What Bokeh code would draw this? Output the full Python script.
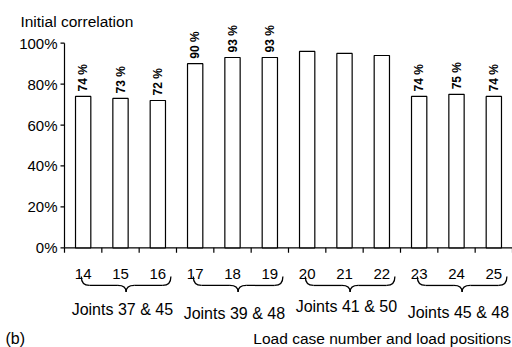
import math
from bokeh.plotting import figure
from bokeh.models import Range1d, ColumnDataSource
from bokeh.core.properties import value
from bokeh.embed import file_html
from bokeh.resources import INLINE

# ---------------- data ----------------
load_cases = ["14", "15", "16", "17", "18", "19", "20", "21", "22", "23", "24", "25"]
correlation = [74, 73, 72, 90, 93, 93, 96, 95, 94, 74, 75, 74]
labeled = [True, True, True, True, True, True, False, False, False, True, True, True]
groups = ["Joints 37 & 45", "Joints 39 & 48", "Joints 41 & 50", "Joints 45 & 48"]
group_size = 3
y_ticks = [0, 20, 40, 60, 80, 100]
y_tick_labels = ["0%", "20%", "40%", "60%", "80%", "100%"]
y_title = "Initial correlation"
x_title = "Load case number and load positions"
panel_tag = "(b)"

# ---------------- layout / style ----------------
FONT = "Liberation Sans"
W, H = 512, 347
n = len(load_cases)
CW = 448 / n                      # pixels per category
X_MIN, X_MAX = -64 / CW, n
PX = 2.046                        # pixels per percent
ZERO = 247.3                      # canvas y of the 0 % line
Y_MAX, Y_MIN = ZERO / PX, -(H - ZERO) / PX
XT = 4 / CW                       # y tick length (x units)
YT = 5 / PX                       # x tick length (y units)
NUM_Y = -12.6
BRACE_TOP, BRACE_MID, BRACE_TIP = -14.0, -18.4, -21.6
GROUP_LABEL_Y = [-30.4, -32.1, -28.7, -31.6]
LABEL_GAP = 5 / PX
BOTTOM_Y = -44.1
TITLE_X, TITLE_Y = -1.18, 110.6

centers = [i + 0.5 for i in range(n)]
boundaries = list(range(n + 1))

p = figure(width=W, height=H, output_backend="svg", toolbar_location=None,
           x_range=Range1d(X_MIN, X_MAX), y_range=Range1d(Y_MIN, Y_MAX),
           x_axis_type=None, y_axis_type=None,
           min_border_left=0, min_border_right=0, min_border_top=0, min_border_bottom=0)
p.outline_line_color = None
p.background_fill_color = "white"
p.border_fill_color = "white"

LW = 1.2
# ---- y axis (value axis, 0..100 %) ----
p.segment(x0=[0], y0=[y_ticks[0]], x1=[0], y1=[y_ticks[-1]], line_color="black", line_width=LW)
p.segment(x0=[-XT] * len(y_ticks), y0=y_ticks, x1=[0] * len(y_ticks), y1=y_ticks,
          line_color="black", line_width=LW)
p.text(x=[-(XT + 3 / CW)] * len(y_ticks), y=y_ticks, text=y_tick_labels,
       text_align="right", text_baseline="middle", text_font=value(FONT),
       text_font_size="15px", text_color="black")

# ---- x axis (load cases) ----
p.segment(x0=[0], y0=[0], x1=[n], y1=[0], line_color="black", line_width=LW)
p.segment(x0=boundaries, y0=[0] * (n + 1), x1=boundaries, y1=[-YT] * (n + 1),
          line_color="black", line_width=LW)
p.text(x=centers, y=[NUM_Y] * n, text=load_cases, text_align="center",
       text_baseline="middle", text_font=value(FONT), text_font_size="15px",
       text_color="black")

# ---- bars ----
p.vbar(x=centers, top=correlation, bottom=0, width=0.41,
       fill_color="white", line_color="black", line_width=LW)

# ---- value labels above bars (rotated) ----
lab_src = ColumnDataSource(dict(
    x=[c for c, f in zip(centers, labeled) if f],
    y=[v + LABEL_GAP for v, f in zip(correlation, labeled) if f],
    t=[f"{v:.0f} %" for v, f in zip(correlation, labeled) if f],
))
p.text(x="x", y="y", text="t", source=lab_src, angle=math.pi / 2,
       text_align="left", text_baseline="middle", text_font=value(FONT),
       text_font_size="12px", text_font_style="bold", text_color="black")

# ---- braces and group labels ----
qx0, qy0, qx1, qy1, qcx, qcy = [], [], [], [], [], []
sx0, sx1, sy = [], [], []
d = 0.22
for g in range(len(groups)):
    s = g * group_size
    x0, x1, xm = s + 0.45, s + group_size - 0.15, s + 1.65
    qx0 += [x0, xm - d, xm, x1 - d]
    qy0 += [BRACE_TOP, BRACE_MID, BRACE_TIP, BRACE_MID]
    qx1 += [x0 + d, xm, xm + d, x1]
    qy1 += [BRACE_MID, BRACE_TIP, BRACE_MID, BRACE_TOP]
    qcx += [x0, xm, xm, x1]
    qcy += [BRACE_MID] * 4
    sx0 += [x0 + d, xm + d]
    sx1 += [xm - d, x1 - d]
    sy += [BRACE_MID, BRACE_MID]

p.quadratic(x0=qx0, y0=qy0, x1=qx1, y1=qy1, cx=qcx, cy=qcy,
            line_color="black", line_width=1.3)
p.segment(x0=sx0, y0=sy, x1=sx1, y1=sy, line_color="black", line_width=1.3)

p.text(x=[g * group_size + 1.55 for g in range(len(groups))], y=GROUP_LABEL_Y,
       text=groups, text_align="center", text_baseline="middle",
       text_font=value(FONT), text_font_size="16px", text_color="black")

# ---- titles ----
p.text(x=[TITLE_X], y=[TITLE_Y], text=[y_title], text_align="left",
       text_baseline="middle", text_font=value(FONT), text_font_size="15.5px",
       text_color="black")
p.text(x=[-1.58], y=[BOTTOM_Y], text=[panel_tag], text_align="left",
       text_baseline="middle", text_font=value(FONT), text_font_size="16px",
       text_color="black")
p.text(x=[n - 0.04], y=[BOTTOM_Y], text=[x_title], text_align="right",
       text_baseline="middle", text_font=value(FONT), text_font_size="15.5px",
       text_color="black")

open("out.html", "w").write(file_html(p, INLINE))
